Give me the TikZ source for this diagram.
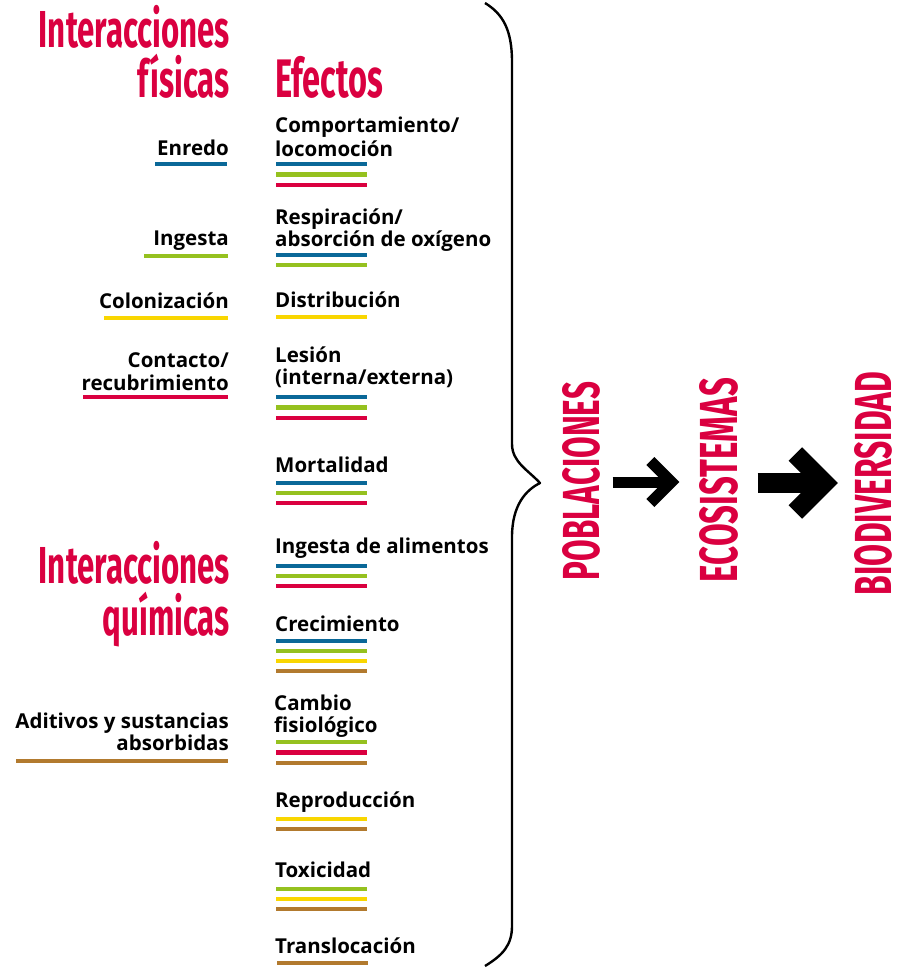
\documentclass[tikz,border=0pt]{standalone}
\usepackage{fontspec}
\setmainfont{Open Sans}
\newfontfamily\ttlfont[FakeStretch=0.6]{Fira Sans}
\usetikzlibrary{calc}
\definecolor{cred}{HTML}{DA0040}
\definecolor{cblue}{HTML}{0A6898}
\definecolor{cgreen}{HTML}{95C11F}
\definecolor{cyellow}{HTML}{F9D600}
\definecolor{cbrown}{HTML}{B27A2E}
\begin{document}
\begin{tikzpicture}[x=1pt,y=-1pt,
  lbl/.style={font=\fontsize{20.5}{22}\selectfont\bfseries, inner sep=0pt, text=black},
  lblL/.style={lbl, anchor=base east},
  lblR/.style={lbl, anchor=base west},
  ttl/.style={font=\ttlfont\bfseries\fontsize{52}{52}\selectfont, text=cred, inner sep=0pt},
  vword/.style={font=\ttlfont\bfseries\fontsize{52}{52}\selectfont, text=cred, inner sep=0pt, rotate=90},
  bar/.style={line width=4.6pt},
  brace/.style={line width=2.4pt, line join=round},
  blockarrow/.style={line width=#1, miter limit=10},
]
\useasboundingbox (0,0) rectangle (915,969);

% titles
\node[ttl, anchor=base east] (tfis1) at (230,47) {Interacciones};
\node[ttl, anchor=base east] (tfis2) at (230,97) {físicas};
\node[ttl, anchor=base west] (tefe) at (275,97) {\resizebox{108pt}{!}{Efectos}};
\node[ttl, anchor=base east] (tqui1) at (230,583) {Interacciones};
\node[ttl, anchor=base east] (tqui2) at (230,635) {químicas};

% left labels
\node[lblL] (enredo) at (229,155) {Enredo};
\node[lblL] (ingesta) at (229,245) {Ingesta};
\node[lblL] (colon) at (229,308) {Colonización};
\node[lblL] (conta) at (229,367) {Contacto/};
\node[lblL] (contb) at (229,390) {recubrimiento};
\node[lblL] (adita) at (229,728) {Aditivos y sustancias};
\node[lblL] (aditb) at (229,750) {absorbidas};

\draw[bar,cblue] (155,164) -- (227,164);
\draw[bar,cgreen] (144,256) -- (228,256);
\draw[bar,cyellow] (104,318) -- (228,318);
\draw[bar,cred] (83,397) -- (228,397);
\draw[bar,cbrown] (16,761) -- (228,761);

% right labels
\node[lblR] (compa) at (275,132) {Comportamiento/};
\node[lblR] (compb) at (275,156) {locomoción};
\node[lblR] (respa) at (275,224) {Respiración/};
\node[lblR] (respb) at (275,246) {absorción de oxígeno};
\node[lblR] (dist) at (275,307) {Distribución};
\node[lblR] (lesa) at (275,362) {Lesión};
\node[lblR] (lesb) at (275,384) {(interna/externa)};
\node[lblR] (mort) at (275,472) {Mortalidad};
\node[lblR] (ingal) at (275,553) {Ingesta de alimentos};
\node[lblR] (crec) at (275,631) {Crecimiento};
\node[lblR] (camba) at (274,710) {Cambio};
\node[lblR] (cambb) at (274,732) {fisiológico};
\node[lblR] (repr) at (275,807) {Reproducción};
\node[lblR] (toxi) at (275,877) {Toxicidad};
\node[lblR] (tras) at (275,953) {Translocación};

\foreach \y/\c in {164/cblue,174.5/cgreen,185/cred,
                   255/cblue,265/cgreen,
                   317/cyellow,
                   397/cblue,407.5/cgreen,418/cred,
                   483/cblue,493/cgreen,503/cred,
                   566/cblue,576/cgreen,586/cred,
                   641/cblue,651/cgreen,661/cyellow,671/cbrown,
                   742/cgreen,752.5/cred,763/cbrown,
                   819/cyellow,829/cbrown,
                   889/cgreen,899/cyellow,909/cbrown}
  \draw[bar,\c] (276,\y) -- (367,\y);
\draw[bar,cbrown] (277,963) -- (368,963);

% brace
\draw[brace] (485,3) .. controls (503,14) and (512,30) .. (512,62)
  -- (512,444) .. controls (512,462) and (528,470) .. (540,483)
  .. controls (526,490) and (512,505) .. (512,537)
  -- (512,926) .. controls (512,945) and (503,955) .. (485,966);

% vertical words
\node[vword] (pob) at (581.5,481) {\resizebox{198pt}{37pt}{POBLACIONES}};
\node[vword] (eco) at (719,480) {\resizebox{204pt}{38pt}{ECOSISTEMAS}};
\node[vword] (bio) at (873.5,483.5) {\resizebox{223pt}{37pt}{BIODIVERSIDAD}};

% arrows
\coordinate (t1) at ($(eco.north)+(-28,2)$);
\draw[blockarrow=11pt] ($(pob.south)+(12,1.5)$) -- ($(t1)+(-4,0.5)$);
\draw[blockarrow=11.3pt] ($(t1)+(-21,-21)$) -- (t1) -- ($(t1)+(-21,21)$);
\coordinate (t2) at ($(bio.north)+(-30,-0.5)$);
\draw[blockarrow=20pt] ($(eco.south)+(19,3)$) -- ($(t2)+(-5,0)$);
\draw[blockarrow=19pt] ($(t2)+(-29,-29)$) -- (t2) -- ($(t2)+(-29,29)$);
\end{tikzpicture}
\end{document}
